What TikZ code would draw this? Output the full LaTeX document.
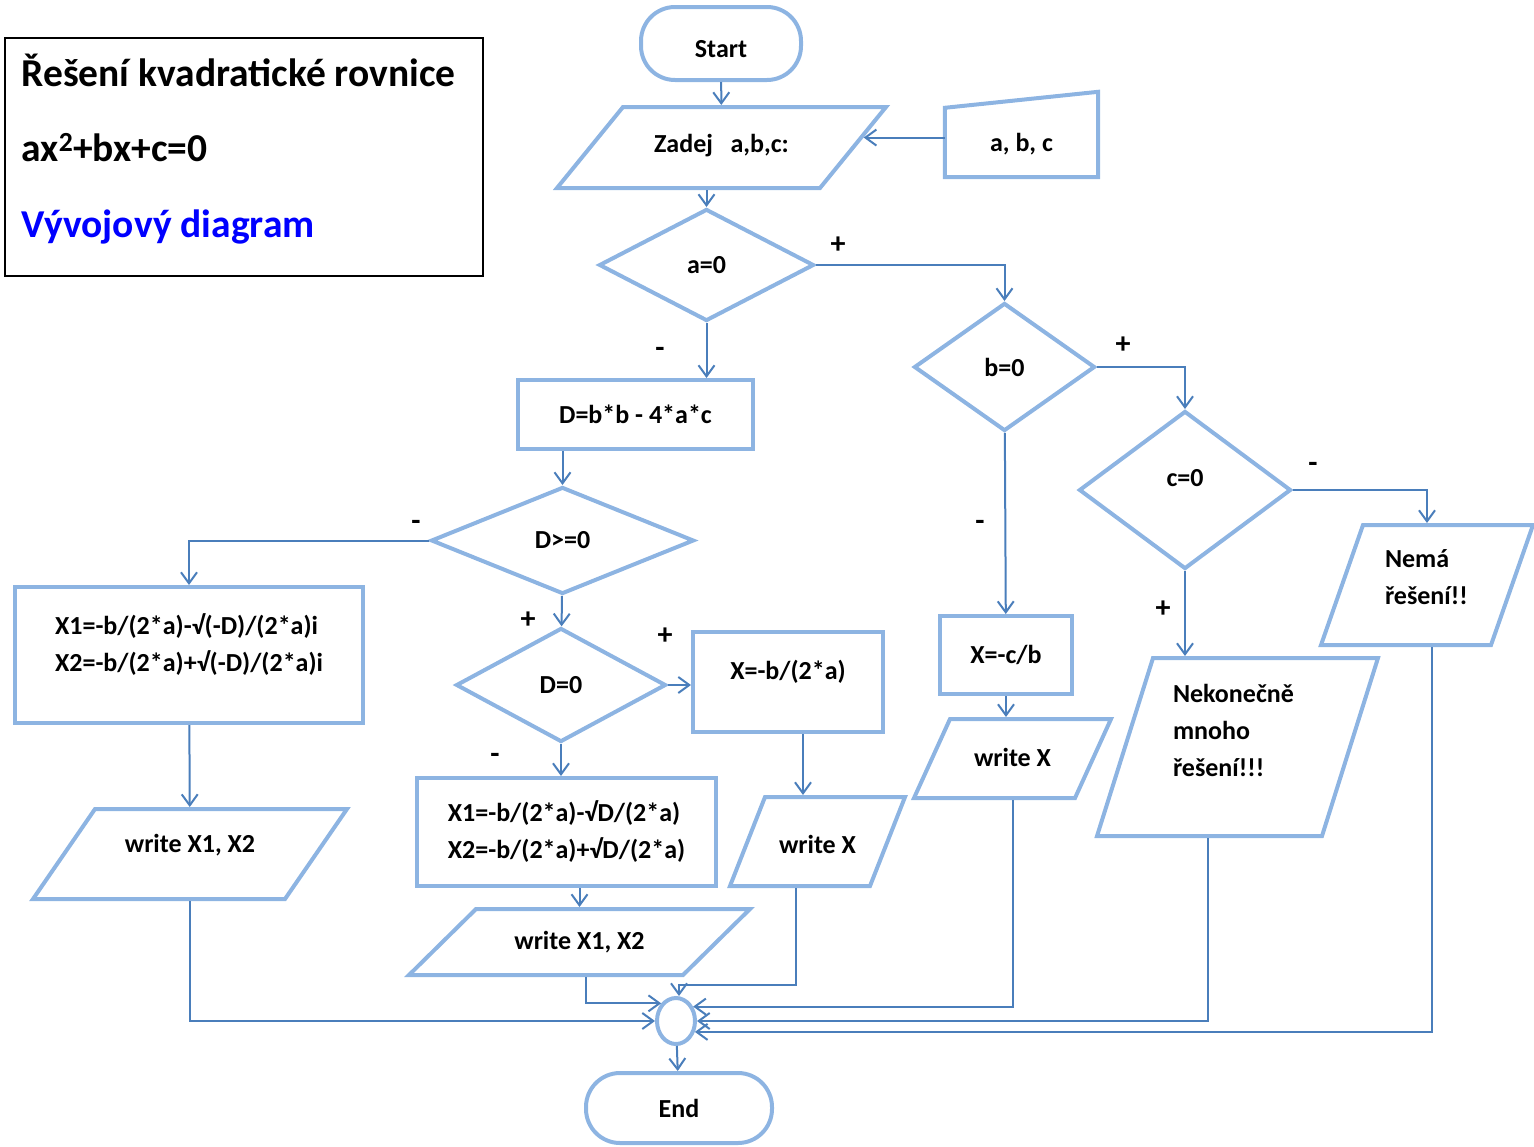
\documentclass[tikz,border=0pt]{standalone}
\usepackage{fontspec}
\setmainfont{Carlito}
\usetikzlibrary{shapes.geometric,arrows.meta,positioning}
\definecolor{tvarmodra}{RGB}{141,180,226}
\definecolor{linkamodra}{RGB}{74,126,187}

\begin{document}
\begin{tikzpicture}[x=1pt,y=-1pt,font=\fontsize{26}{37}\selectfont\bfseries]
 \tikzset{term node/.style={rectangle, draw=tvarmodra, line width=4pt,
 		text centered, rounded corners=34pt}, }
 \tikzset{proc node/.style={rectangle, draw=tvarmodra, line width=4pt,
 		text centered}, }
 \tikzset{cond node/.style={diamond, draw=tvarmodra, line width=4pt,
 		text centered, inner sep=0pt}, }
 \tikzset{io node/.style={trapezium, draw=tvarmodra, line width=4pt,
 		trapezium left angle=#1, trapezium right angle={180-#1},
 		inner sep=0pt, align=flush center}, }
 \tikzset{join node/.style={ellipse, draw=tvarmodra, line width=4pt,
 		minimum width=38pt, minimum height=46pt, inner sep=0pt}, }
 \tikzset{sign node/.style={inner sep=0pt, font=\fontsize{30}{30}\selectfont\bfseries}, }
 \tikzset{title text/.style={anchor=base west, font=\fontsize{39.5}{40}\selectfont\bfseries}, }
 \tikzset{linka/.style={-{Straight Barb[length=11pt,width=16pt]},
 		draw=linkamodra, line width=2pt},}
 \useasboundingbox (0,0) rectangle (1534,1146);
 % nadpis
 \node[draw, line width=1.2pt, minimum width=478pt, minimum height=238pt] (title) at (244,157) {};
 \node[title text] (t1) at (18,86) {Řešení kvadratické rovnice};
 \node[title text] (t2) at (18,161) {ax\textsuperscript{2}+bx+c=0};
 \node[title text, text=blue] (t3) at (18,237) {Vývojový diagram};
 % bloky
 \node[term node, minimum width=160pt, minimum height=73pt, text height=28pt, text depth=0pt] (start) at (721,43.5) {Start};
 \node[io node=50.83, text width=197pt, text height=45pt, text depth=36pt] (zadej) at (721.5,147.5) {Zadej\ \ \ a,b,c:};
 \node[minimum width=153pt, minimum height=66pt] (abc) at (1021.5,144) {a, b, c};
 \draw[draw=tvarmodra, line width=4pt] (abc.south west) -- (abc.south east)
 	-- ([yshift=19pt]abc.north east) -- ([yshift=3pt]abc.north west) -- cycle;
 \node[cond node, minimum width=215pt, minimum height=112pt] (a0) at (706.5,265) {a=0};
 \node[proc node, minimum width=235pt, minimum height=69pt] (disk) at (635.5,414.5) {D=b*b - 4*a*c};
 \node[cond node, minimum width=263pt, minimum height=107pt] (dge) at (562.5,540.5) {D>=0};
 \node[proc node, minimum width=348pt, minimum height=136pt, align=left, text height=32pt, text depth=0pt] (cplx) at (189,655)
 	{X1=-b/(2*a)-√(-D)/(2*a)i\\X2=-b/(2*a)+√(-D)/(2*a)i};
 \node[io node=55.44, text width=190pt, text height=43pt, text depth=47pt] (w1) at (190,854) {write X1, X2};
 \node[cond node, minimum width=210pt, minimum height=114pt] (d0) at (561,685) {D=0};
 \node[proc node, minimum width=190pt, minimum height=100pt, text height=0pt, text depth=6pt] (xb) at (788,682) {X=-b/(2*a)};
 \node[proc node, minimum width=299pt, minimum height=108pt, align=left] (real) at (566.5,832)
 	{X1=-b/(2*a)-√D/(2*a)\\X2=-b/(2*a)+√D/(2*a)};
 \node[io node=68.53, text width=105pt, text height=56pt, text depth=33pt] (wx) at (817.5,841.5) {write X};
 \node[io node=44.57, text width=207pt, text height=40pt, text depth=26pt] (w2) at (579.5,942) {write X1, X2};
 \node[join node] (jn) at (676,1021) {};
 \node[term node, minimum width=186pt, minimum height=70pt] (stop) at (679,1108) {End};
 \node[cond node, minimum width=181pt, minimum height=128pt] (b0) at (1004.5,367) {b=0};
 \node[proc node, minimum width=132pt, minimum height=78pt] (xc) at (1006,655) {X=-c/b};
 \node[io node=65.5, text width=125pt, text height=47pt, text depth=32pt] (wxr) at (1012.5,758.5) {write X};
 \node[cond node, minimum width=212pt, minimum height=158pt, text height=0pt, text depth=8pt] (c0) at (1185,490) {c=0};
 \node[io node=70.71, text width=84pt, inner xsep=22pt, align=flush left, text height=42pt, text depth=78pt] (nema) at (1427,585)
 	{Nemá\\řešení!!};
 \node[io node=72.54, text width=129pt, inner xsep=20pt, align=flush left, text height=44pt, text depth=134pt] (nek) at (1237.5,747)
 	{Nekonečně\\mnoho\\řešení!!!};
 % znamenka
 \node[sign node] (pa) at (838,245) {+};
 \node[sign node] (ma) at (660,352) {-};
 \node[sign node] (md) at (416,525) {-};
 \node[sign node] (pd) at (528,620) {+};
 \node[sign node] (pz) at (665,636) {+};
 \node[sign node] (mz) at (495,758) {-};
 \node[sign node] (pb) at (1123,345) {+};
 \node[sign node] (mb) at (980,525) {-};
 \node[sign node] (mc) at (1313,467) {-};
 \node[sign node] (pc) at (1163,609) {+};
 % spoje
 \foreach \x /\y in {start/zadej, dge/d0, b0/xc, cplx/w1, jn/stop}
 \path[linka] (\x) edge (\y);
 \draw[linka] (zadej.south -| a0.north) -- (a0.north);
 \draw[linka] (abc.west |- zadej.4) -- (zadej.4);
 \draw[linka] (a0.east) -| (b0.north);
 \draw[linka] (a0.south) -- (a0.south |- disk.north);
 \draw[linka] (dge.north |- disk.south) -- (dge.north);
 \draw[linka] (dge.west) -| (cplx.north);
 \draw[linka] (d0.east) -- (d0.east -| xb.west);
 \draw[linka] (d0.south) -- (d0.south |- real.north);
 \draw[linka] ([xshift=15pt]xb.south) -- ([xshift=15pt]xb.south |- wx.north);
 \draw[linka] (w2.north |- real.south) -- (w2.north);
 \draw[linka] (b0.east) -| (c0.north);
 \draw[linka] (xc.south) -- (xc.south |- wxr.north);
 \draw[linka] (c0.east) -| (nema.north);
 \draw[linka] (c0.south) -- (c0.south |- nek.north);
 % do spojky
 \draw[linka] (w1.south) |- (jn.west);
 \draw[linka] ([xshift=6pt]w2.south) |- (jn.130);
 \draw[linka] ([xshift=-22pt]wx.south) -- ++(0,97) -| ([xshift=3pt]jn.north);
 \draw[linka] (wxr.south) |- (jn.40);
 \draw[linka] ([xshift=-30pt]nek.south) |- (jn.east);
 \draw[linka] ([xshift=5pt]nema.south) |- (jn.-30);
\end{tikzpicture}
\end{document}
